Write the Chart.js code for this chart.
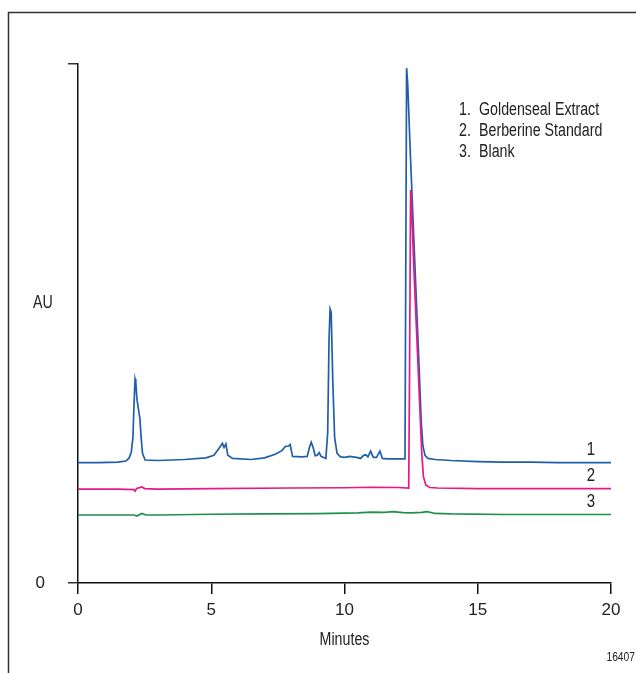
<!DOCTYPE html>
<html>
<head>
<meta charset="utf-8">
<script src="https://cdn.jsdelivr.net/npm/chart.js@4.4.0/dist/chart.umd.min.js"></script>
<style>
  html, body { margin: 0; padding: 0; background: #fff; }
  canvas { display: block; }
</style>
</head>
<body>
<canvas id="chrom" width="636" height="673"></canvas>
<script>
// --- data (minutes / relative AU) ---
const xTicks = [0, 5, 10, 15, 20];
const yTicks = [0, 100];

const extractTime = [0, 0.8, 1.5, 1.8, 1.92, 2.0, 2.06, 2.1, 2.14, 2.17, 2.21, 2.27, 2.32, 2.37, 2.42, 2.52, 3, 4, 4.8, 5.1, 5.3, 5.42, 5.48, 5.55, 5.62, 5.8, 6.5, 7.0, 7.4, 7.65, 7.78, 7.9, 7.96, 8.05, 8.4, 8.6, 8.68, 8.75, 8.82, 8.9, 8.98, 9.05, 9.12, 9.3, 9.37, 9.42, 9.46, 9.5, 9.56, 9.63, 9.72, 9.85, 10.0, 10.2, 10.45, 10.6, 10.72, 10.8, 10.88, 10.98, 11.08, 11.2, 11.33, 11.42, 11.6, 12.0, 12.27, 12.33, 12.37, 12.48, 12.6, 12.7, 12.8, 12.88, 12.94, 13.02, 13.13, 13.4, 14, 15, 16, 17, 18, 19, 20];
const extractAU = [23.2, 23.2, 23.3, 23.5, 24.1, 25.2, 28, 34, 39.3, 38.6, 35.5, 33.4, 31.8, 28, 25, 23.7, 23.6, 23.8, 24.1, 24.6, 26.0, 26.9, 26.1, 26.8, 24.6, 24.0, 23.8, 24.1, 24.8, 25.5, 26.3, 26.4, 26.7, 24.4, 24.3, 24.4, 26.0, 27.1, 26.2, 24.5, 24.6, 25.1, 24.4, 24.0, 29, 47, 52.8, 52.2, 39, 28, 25, 24.3, 24.2, 24.4, 24.2, 24.0, 24.6, 24.7, 24.3, 25.4, 24.2, 24.2, 25.4, 24.0, 23.9, 23.9, 23.9, 99.2, 96.4, 81.5, 66.5, 54, 41.5, 31, 26.5, 24.6, 24.0, 23.8, 23.6, 23.4, 23.3, 23.3, 23.2, 23.2, 23.2];

const standardTime = [0, 1.5, 2.1, 2.14, 2.2, 2.4, 2.5, 3, 5, 8, 10, 11, 12, 12.41, 12.44, 12.48, 12.52, 12.6, 12.7, 12.8, 12.9, 12.96, 13.05, 13.2, 13.5, 15, 17, 20];
const standardAU = [18.1, 18.1, 18.0, 17.7, 18.2, 18.5, 18.2, 18.1, 18.2, 18.3, 18.35, 18.45, 18.4, 18.3, 40, 75.7, 72, 61, 49, 37, 25, 20.5, 18.9, 18.4, 18.3, 18.2, 18.2, 18.2];

const blankTime = [0, 1.5, 2.1, 2.2, 2.4, 2.55, 3, 5, 7, 9, 10.5, 11, 11.5, 11.8, 12.2, 12.5, 12.9, 13.1, 13.4, 14, 16, 18, 20];
const blankAU = [13.1, 13.1, 13.1, 12.9, 13.4, 13.1, 13.1, 13.25, 13.3, 13.35, 13.5, 13.65, 13.6, 13.75, 13.55, 13.5, 13.6, 13.75, 13.4, 13.3, 13.2, 13.2, 13.2];

const legendLines = ['Goldenseal Extract', 'Berberine Standard', 'Blank'];
const traceLabels = ['1', '2', '3'];

const FONT = '"Liberation Sans", Arial, sans-serif';
const NARROW = 0.79; // squeeze to look like a condensed face

function toPoints(t, v) { return t.map((x, i) => ({ x: x, y: v[i] })); }

// condensed text: scale x only
function narrowText(ctx, txt, x, y, align) {
    const w = ctx.measureText(txt).width * NARROW;
    let left = x;
    if (align === 'center') left = x - w / 2;
    if (align === 'right') left = x - w;
    ctx.save();
    ctx.translate(left, y);
    ctx.scale(NARROW, 1);
    ctx.textAlign = 'left';
    ctx.fillText(txt, 0, 0);
    ctx.restore();
}

// texts + frame drawn on top
const annotations = {
    id: 'annotations',
    afterDraw(chart) {
        const ctx = chart.ctx;
        const xs = chart.scales.x, ys = chart.scales.y;
        ctx.save();
        // outer frame
        ctx.strokeStyle = '#333';
        ctx.lineWidth = 1.5;
        ctx.beginPath();
        ctx.moveTo(8.5, 673);
        ctx.lineTo(8.5, 12.5);
        ctx.lineTo(636, 12.5);
        ctx.stroke();

        ctx.fillStyle = '#222';
        ctx.textBaseline = 'middle';
        ctx.font = '18px ' + FONT;
        narrowText(ctx, 'AU', 43, 303, 'center');
        narrowText(ctx, 'Minutes', (xs.left + xs.right) / 2, 640, 'center');

        // legend
        legendLines.forEach((txt, i) => {
            const y = 110 + i * 21;
            narrowText(ctx, (i + 1) + '.', 459, y, 'left');
            narrowText(ctx, txt, 479, y, 'left');
        });

        // trace numbers at right end
        ctx.font = '19px ' + FONT;
        const lastAU = [extractAU[extractAU.length - 1], standardAU[standardAU.length - 1], blankAU[blankAU.length - 1]];
        traceLabels.forEach((lab, i) => {
            narrowText(ctx, lab, 591, ys.getPixelForValue(lastAU[i]) - 13, 'center');
        });

        ctx.font = '13px ' + FONT;
        narrowText(ctx, '16407', 635, 657, 'right');
        ctx.restore();
    }
};

const lineStyle = { borderWidth: 1.7, pointRadius: 0, tension: 0, fill: false };

new Chart(document.getElementById('chrom'), {
    type: 'line',
    data: {
        datasets: [
            Object.assign({ label: 'Blank', data: toPoints(blankTime, blankAU), borderColor: '#1f8f4e' }, lineStyle),
            Object.assign({ label: 'Berberine Standard', data: toPoints(standardTime, standardAU), borderColor: '#e6198a' }, lineStyle),
            Object.assign({ label: 'Goldenseal Extract', data: toPoints(extractTime, extractAU), borderColor: '#1f5faa' }, lineStyle)
        ]
    },
    options: {
        responsive: false,
        animation: false,
        events: [],
        layout: { padding: { top: 64, right: 25, left: 0, bottom: 0 } },
        plugins: { legend: { display: false }, tooltip: { enabled: false } },
        scales: {
            x: {
                type: 'linear', min: 0, max: 20,
                afterBuildTicks: s => { s.ticks = xTicks.map(v => ({ value: v })); },
                afterFit: s => { s.height = 90; },
                ticks: { color: '#222', font: { family: FONT, size: 17 }, padding: 6, maxRotation: 0 },
                grid: { drawOnChartArea: false, drawTicks: true, tickLength: 11, color: '#111', lineWidth: 1.5 },
                border: { display: true, color: '#111', width: 1.5 }
            },
            y: {
                type: 'linear', min: 0, max: 100,
                afterBuildTicks: s => { s.ticks = yTicks.map(v => ({ value: v })); },
                afterFit: s => { s.width = 78; },
                ticks: { color: '#222', font: { family: FONT, size: 17 }, padding: 23, callback: v => v === 0 ? '0' : '' },
                grid: { drawOnChartArea: false, drawTicks: true, tickLength: 10, color: '#333', lineWidth: 1.5 },
                border: { display: true, color: '#111', width: 1.5 }
            }
        }
    },
    plugins: [annotations]
});
</script>
</body>
</html>
